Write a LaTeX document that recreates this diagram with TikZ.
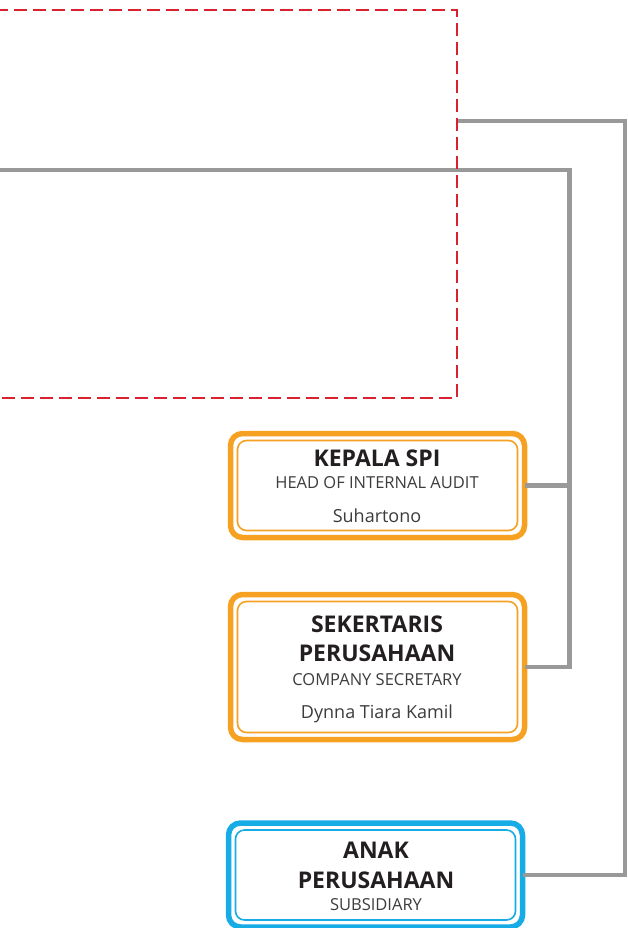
\documentclass[tikz,border=0pt]{standalone}
\usepackage{fontspec}
\setmainfont{Open Sans}
\definecolor{spiorange}{HTML}{F7A123}
\definecolor{anakblue}{HTML}{17ACE6}
\definecolor{linegray}{HTML}{999999}
\definecolor{boardred}{HTML}{D8232F}
\definecolor{inkdark}{HTML}{231F20}
\definecolor{inkgray}{HTML}{3C3C3C}

\begin{document}
\begin{tikzpicture}[x=1pt,y=-1pt]
  \useasboundingbox (0,0) rectangle (627,928);
  \tikzset{%
    orgbox/.style={draw=#1,line width=5.5pt,rounded corners=12pt,fill=white,
      minimum width=294pt,inner sep=0pt,outer sep=0pt},
    inframe/.style={draw=#1,line width=1.6pt,rounded corners=9pt},
    titletext/.style={anchor=base,font=\fontsize{23}{27}\selectfont\bfseries,text=inkdark},
    subtext/.style={anchor=base,font=\fontsize{16.5}{19}\selectfont,text=inkgray},
    nametext/.style={anchor=base,font=\fontsize{18}{22}\selectfont,text=inkgray},
    link/.style={draw=linegray,line width=4.5pt},
  }
  % boxes
  \node[orgbox=spiorange,minimum height=104pt] (spi) at (377.5,485.5) {};
  \node[orgbox=spiorange,minimum height=145pt] (sekper) at (377.5,667) {};
  \node[orgbox=anakblue,minimum height=104pt] (anak) at (375.5,875) {};
  \foreach \nm/\col in {spi/spiorange,sekper/spiorange,anak/anakblue}
    \draw[inframe=\col] ([shift={(7,7)}]\nm.north west) rectangle ([shift={(-7,-7)}]\nm.south east);%<- inner frame
  % texts
  \node[titletext] (spi-t) at (377,466) {KEPALA SPI};
  \node[subtext] (spi-s) at (377,488) {HEAD OF INTERNAL AUDIT};
  \node[nametext] (spi-n) at (377,522) {Suhartono};
  \node[titletext] (sekper-t1) at (377,632) {SEKERTARIS};
  \node[titletext] (sekper-t2) at (377,661) {PERUSAHAAN};
  \node[subtext] (sekper-s) at (377,685) {COMPANY SECRETARY};
  \node[nametext] (sekper-n) at (377,718) {Dynna Tiara Kamil};
  \node[titletext] (anak-t1) at (376,858) {ANAK};
  \node[titletext] (anak-t2) at (376,888) {PERUSAHAAN};
  \node[subtext] (anak-s) at (376,910) {SUBSIDIARY};
  % connectors
  \coordinate (board) at (457,121);
  \coordinate (director) at (-5,170);
  \coordinate (trunk) at (569.5,170);
  \draw[link] (board) -- (625,121) |- (anak.east);
  \draw[link] (director) -- (trunk) |- (sekper.east);
  \draw[link] (spi.east) -- (spi.east -| trunk);
  % dashed board frame
  \draw[boardred,line width=2.3pt,dash pattern=on 13pt off 6pt]
    (-5,10) -- (457,10) -- (457,398) -- (-5,398);
\end{tikzpicture}
\end{document}
